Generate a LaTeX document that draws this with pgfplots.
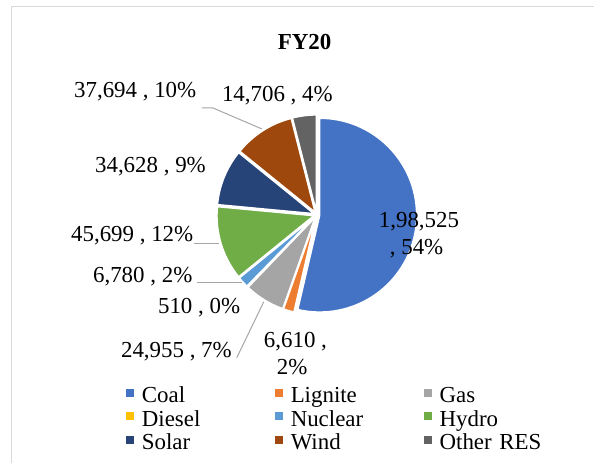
\documentclass[border=0pt]{standalone}
\usepackage{pgfplots}
\pgfplotsset{compat=1.18}
\usepackage{pgfplotstable}
\usepackage{fontspec}
\setmainfont{Liberation Serif}
\definecolor{cCoal}{HTML}{4472C4}
\definecolor{cLig}{HTML}{ED7D31}
\definecolor{cGas}{HTML}{A5A5A5}
\definecolor{cDie}{HTML}{FFC000}
\definecolor{cNuc}{HTML}{5B9BD5}
\definecolor{cHyd}{HTML}{70AD47}
\definecolor{cSol}{HTML}{264478}
\definecolor{cWin}{HTML}{9E480E}
\definecolor{cOth}{HTML}{636363}
\definecolor{leader}{HTML}{A6A6A6}
\definecolor{frame}{HTML}{D9D9D9}

\pgfplotstableread[col sep=comma,row sep=\\]{
name,value,col\\
Coal,198525,cCoal\\
Lignite,6610,cLig\\
Gas,24955,cGas\\
Diesel,510,cDie\\
Nuclear,6780,cNuc\\
Hydro,45699,cHyd\\
Solar,34628,cSol\\
Wind,37694,cWin\\
Other RES,14706,cOth\\
}\piedata

\newcommand\lbl{\fontsize{23}{27}\selectfont}

\begin{document}
\begin{tikzpicture}
\def\total{0}
\pgfplotsforeachungrouped \i in {0,...,8}{%
  \pgfplotstablegetelem{\i}{value}\of\piedata
  \edef\total{\fpeval{\total+\pgfplotsretval}}%
}
\def\angcur{90}
\def\slices{}
\pgfplotsforeachungrouped \i in {0,...,8}{%
  \pgfplotstablegetelem{\i}{value}\of\piedata \let\sval\pgfplotsretval
  \pgfplotstablegetelem{\i}{col}\of\piedata \let\scol\pgfplotsretval
  \pgfplotstablegetelem{\i}{name}\of\piedata \let\sname\pgfplotsretval
  \edef\angend{\fpeval{round(\angcur-360*\sval/\total,4)}}%
  \edef\angmid{\fpeval{(\angcur+\angend)/2}}%
  \edef\apx{\fpeval{round(317+3*cosd(\angmid),3)}}%
  \edef\apy{\fpeval{round(248+3*sind(\angmid),3)}}%
  \xdef\slices{\unexpanded\expandafter{\slices}%
    \noexpand\addplot[fill=\scol,draw=white,line width=1.5bp] coordinates {(\apx,\apy)} -- ++(\angcur:97bp) arc[start angle=\angcur,end angle=\angend,radius=97bp] -- cycle;%
    \noexpand\addlegendentry{\sname}}%
  \let\angcur\angend
}
\begin{axis}[
  width=594bp, height=463bp, scale only axis,
  xmin=0, xmax=594, ymin=0, ymax=463,
  hide axis, clip=false,
  legend columns=3,
  legend cell align=left,
  legend image code/.code={\fill[#1,draw=none] (0bp,6bp) rectangle (8bp,14bp);},
  legend style={draw=none, fill=none, at={(axis cs:126,76)}, anchor=north west,
    inner sep=0pt, outer sep=0pt, row sep=0pt, column sep=0pt,
    cells={anchor=base west},
    nodes={inner sep=0pt, outer sep=0pt, text height=16bp, text depth=7.5bp, text width=133bp, font=\lbl},
    /tikz/every odd column/.append style={column sep=8bp}},
]
\path (axis cs:0,0) (axis cs:594,463);
\draw[frame, line width=1bp] (axis cs:12,0) -- (axis cs:12,456) -- (axis cs:594,456);
\slices
% leader lines
\draw[leader, line width=1bp] (axis cs:202,355) -- (axis cs:213,355) -- (axis cs:262,334);
\draw[leader, line width=1bp] (axis cs:194,219) -- (axis cs:219,219);
\draw[leader, line width=1bp] (axis cs:197,180) -- (axis cs:242,180);
\draw[leader, line width=1bp] (axis cs:237,105) -- (axis cs:264,161);
% title
\node[anchor=base west, inner sep=0pt, font=\lbl\bfseries] at (axis cs:278,413) {FY20};
% data labels
\node[anchor=base west, inner sep=0pt, font=\lbl] at (axis cs:74,365) {37,694 , 10\%};
\node[anchor=base west, inner sep=0pt, font=\lbl] at (axis cs:222,361) {14,706 , 4\%};
\node[anchor=base west, inner sep=0pt, font=\lbl] at (axis cs:95,290) {34,628 , 9\%};
\node[anchor=base west, inner sep=0pt, font=\lbl] at (axis cs:71,221) {45,699 , 12\%};
\node[anchor=base west, inner sep=0pt, font=\lbl] at (axis cs:93,180) {6,780 , 2\%};
\node[anchor=base west, inner sep=0pt, font=\lbl] at (axis cs:158,149) {510 , 0\%};
\node[anchor=base west, inner sep=0pt, font=\lbl] at (axis cs:121,105) {24,955 , 7\%};
\node[anchor=base west, inner sep=0pt, font=\lbl] at (axis cs:264,115) {6,610 ,};
\node[anchor=base west, inner sep=0pt, font=\lbl] at (axis cs:277,88) {2\%};
\node[anchor=base west, inner sep=0pt, font=\lbl] at (axis cs:379,235) {1,98,525};
\node[anchor=base west, inner sep=0pt, font=\lbl] at (axis cs:390,208) {, 54\%};
\end{axis}
\end{tikzpicture}
\end{document}
